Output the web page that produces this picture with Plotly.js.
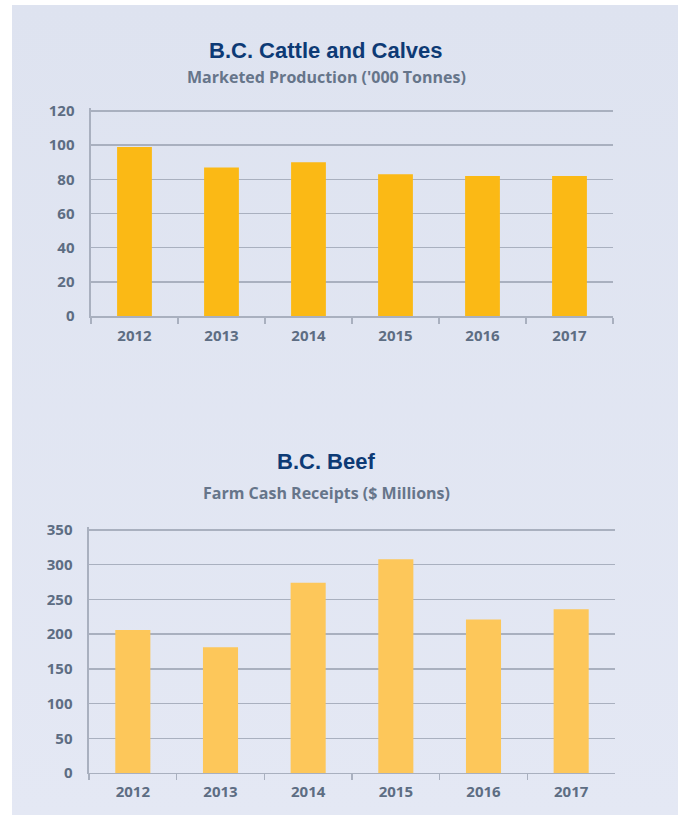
<!DOCTYPE html>
<html>
<head>
<meta charset="utf-8">
<script src="https://cdn.plot.ly/plotly-3.0.1.min.js"></script>
<style>
	body { margin:0; background:#ffffff; }
	#chart1 {
		position:absolute; left:12px; top:5px; width:666px; height:810px;
		background:linear-gradient(#dee3f0, #e4e8f4);
	}
</style>
</head>
<body>
<div id="chart1"></div>
<script>

var years = ['2012', '2013', '2014', '2015', '2016', '2017'];
var cattleTonnes = [99, 87, 90, 83, 82, 82];
var beefReceipts = [206, 181, 274, 308, 221, 236];

var cattleTicks = [0, 20, 40, 60, 80, 100, 120];
var beefTicks = [0, 50, 100, 150, 200, 250, 300, 350];

var gridColor = '#a9b0bf';
var labelColor = '#5d6d83';
var tickFont = {family:'Open Sans, sans-serif', size:15, color:labelColor, weight:700};

function buildBars(values, color, xa, ya) {
	var trace = {
		x: years,
		y: values,
		type: 'bar',
		width: 0.4,
		marker: {color: color, line: {width: 0}},
		xaxis: xa,
		yaxis: ya,
		hoverinfo: 'x+y'
	};
	return trace;
}

function xAxis(domain, anchor) {
	return {
		domain: domain,
		anchor: anchor,
		type: 'category',
		showgrid: false,
		showline: true,
		linecolor: gridColor,
		linewidth: 1.5,
		ticks: 'outside',
		tickson: 'boundaries',
		ticklen: 6,
		tickwidth: 1.5,
		tickcolor: gridColor,
		ticklabelstandoff: 5,
		tickfont: tickFont,
		fixedrange: true
	};
}

// range goes a bit past the last tick so its gridline is still drawn
function yAxis(domain, anchor, maxVal, ticks) {
	return {
		domain: domain,
		anchor: anchor,
		range: [0, maxVal * 1.0125],
		tickvals: ticks,
		showgrid: true,
		gridcolor: gridColor,
		gridwidth: 1.5,
		zeroline: false,
		showline: true,
		linecolor: gridColor,
		linewidth: 1.5,
		ticks: 'outside',
		ticklen: 12,
		tickcolor: 'rgba(0,0,0,0)',
		tickfont: tickFont,
		fixedrange: true
	};
}

function titleNote(text, y, size, color, family) {
	return {
		text: text,
		xref: 'paper', yref: 'paper',
		x: 0.4715, y: y,
		xanchor: 'center', yanchor: 'middle',
		showarrow: false,
		font: {family: family, size: size, color: color, weight: 700}
	};
}

var data = [
	buildBars(cattleTonnes, '#fbb915', 'x', 'y'),
	buildBars(beefReceipts, '#fdc75a', 'x2', 'y2')
];

var layout = {
	width: 666,
	height: 810,
	margin: {l: 0, r: 0, t: 0, b: 0},
	paper_bgcolor: 'rgba(0,0,0,0)',
	plot_bgcolor: 'rgba(0,0,0,0)',
	showlegend: false,
	bargap: 0.6,
	xaxis: xAxis([0.1186, 0.9024], 'y'),
	yaxis: yAxis([0.6160, 0.8723], 'x', 120, cattleTicks),
	xaxis2: xAxis([0.1156, 0.9054], 'y2'),
	yaxis2: yAxis([0.0519, 0.3556], 'x2', 350, beefTicks),
	annotations: [
		titleNote('B.C. Cattle and Calves', 0.9444, 22, '#0d3a75', 'Liberation Sans, Arial, sans-serif'),
		titleNote("Marketed Production ('000 Tonnes)", 0.9105, 16, '#66758a', 'Open Sans, sans-serif'),
		titleNote('B.C. Beef', 0.4364, 22, '#0d3a75', 'Liberation Sans, Arial, sans-serif'),
		titleNote('Farm Cash Receipts ($ Millions)', 0.3981, 16, '#66758a', 'Open Sans, sans-serif')
	]
};

Plotly.newPlot('chart1', data, layout, {displayModeBar: false, staticPlot: true});

</script>
</body>
</html>
